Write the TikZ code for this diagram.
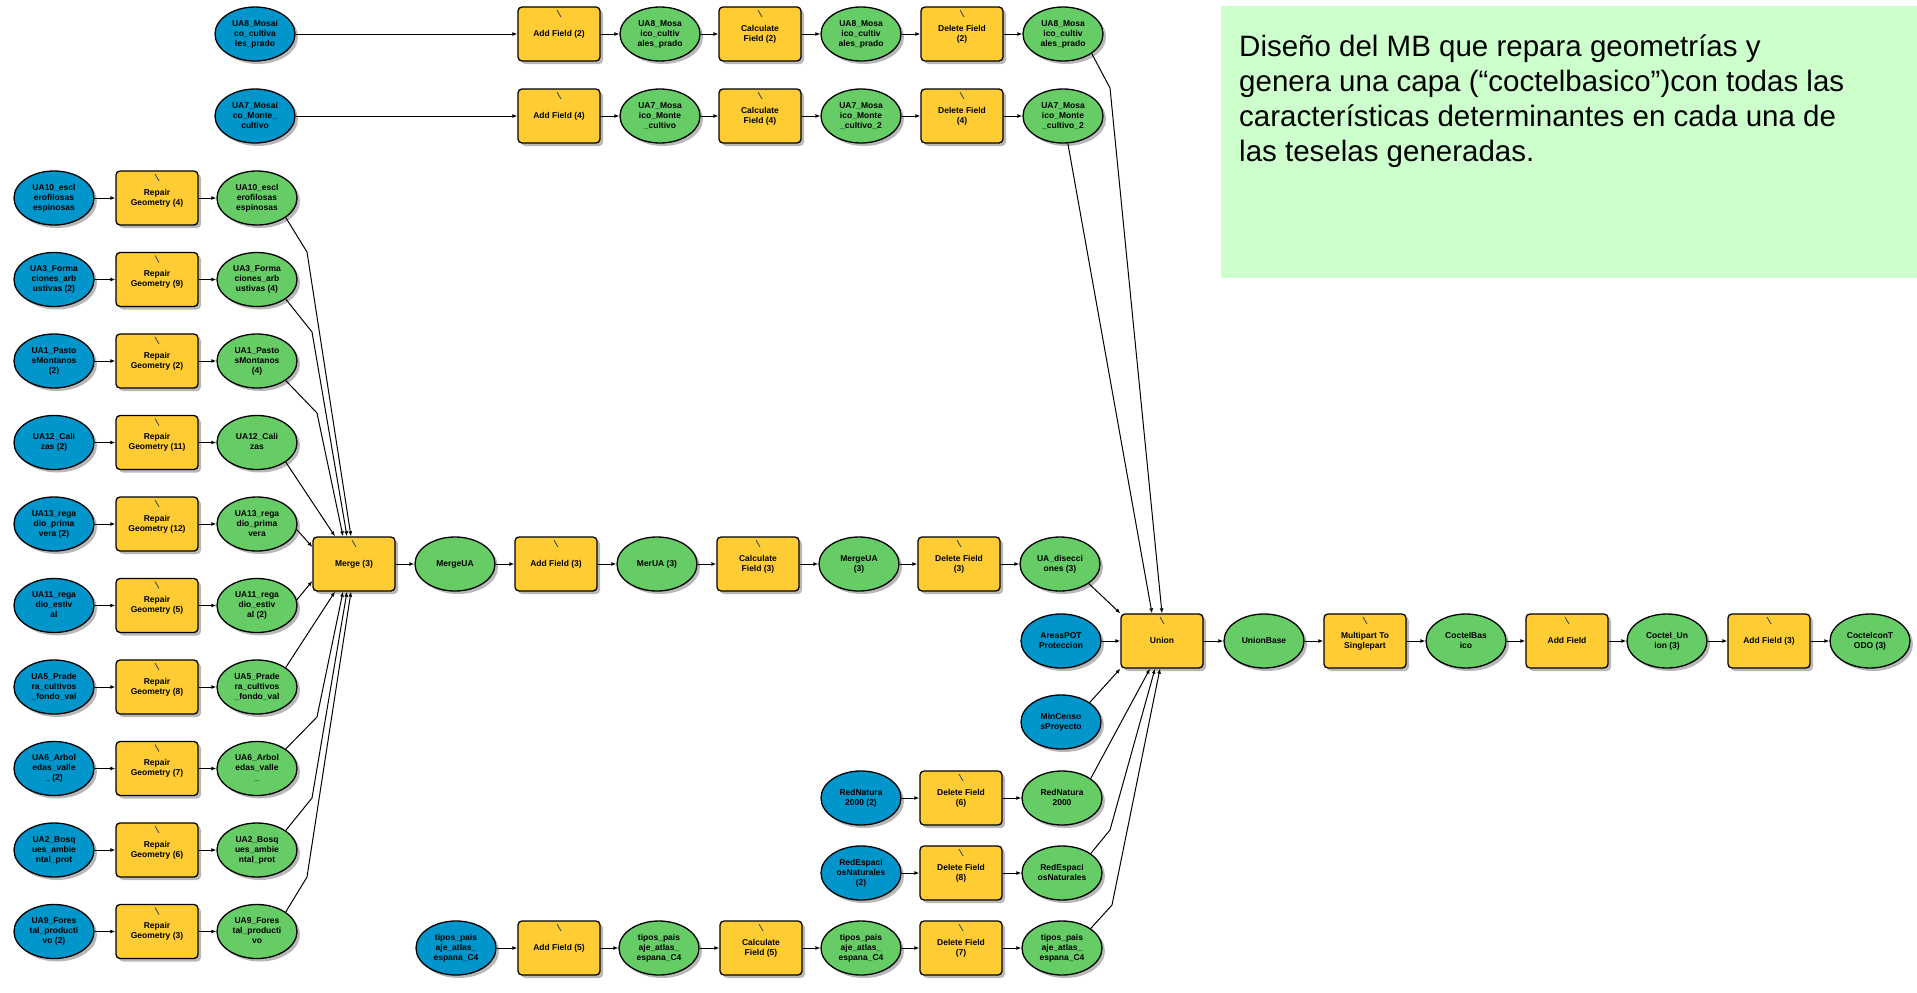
\documentclass[tikz,border=0pt]{standalone}
\usepackage{fontspec}
\setmainfont{Liberation Sans}
\usetikzlibrary{shapes.geometric,shadows,arrows.meta,calc}
\definecolor{inblue}{RGB}{0,150,204}
\definecolor{dgreen}{RGB}{102,204,102}
\definecolor{tyellow}{RGB}{255,204,51}
\definecolor{notegreen}{RGB}{204,255,204}
\newcommand\nlab[1]{\makebox[0pt]{\begin{tabular}{@{}c@{}}#1\end{tabular}}}
\begin{document}
\begin{tikzpicture}[x=1pt,y=-1pt,
  base/.style={draw=black, line width=1.3pt, inner sep=0pt,
    font=\fontsize{8.5}{10}\selectfont\bfseries,
    drop shadow={shadow xshift=3pt,shadow yshift=-3pt,fill=black!35,opacity=0.8}},
  indata/.style={base, ellipse, fill=inblue, minimum width=80pt, minimum height=54pt},
  outdata/.style={base, ellipse, fill=dgreen, minimum width=80pt, minimum height=54pt},
  tool/.style={base, rectangle, rounded corners=4pt, fill=tyellow,
    minimum width=82pt, minimum height=54pt,
    path picture={\draw[black!70, line width=0.9pt]
      ($(path picture bounding box.north)+(-2,3)$) -- ++(4,7);}},
  conn/.style={line width=1pt, -{Latex[length=5pt,width=4pt]}},
]
\useasboundingbox (0,0) rectangle (1917,993);

% note box
\node[fill=notegreen, minimum width=696pt, minimum height=272pt, anchor=north west, inner sep=0pt] (notebox) at (1221,6) {};
\node[anchor=north west, align=left, inner sep=0pt, font=\fontsize{29.5}{35}\selectfont] (notetext) at (1239,35)
 {Diseño del MB que repara geometrías y\\genera una capa (“coctelbasico”)con todas las\\características determinantes en cada una de\\las teselas generadas.};

% top row 1
\node[indata] (b8) at (255,34) {\nlab{UA8\_Mosai\\co\_cultiva\\les\_prado}};
\node[tool] (af2) at (559,34) {\nlab{Add Field (2)}};
\node[outdata] (g8a) at (660,34) {\nlab{UA8\_Mosa\\ico\_cultiv\\ales\_prado}};
\node[tool] (cf2) at (760,34) {\nlab{Calculate\\Field (2)}};
\node[outdata] (g8b) at (861,34) {\nlab{UA8\_Mosa\\ico\_cultiv\\ales\_prado}};
\node[tool] (df2) at (962,34) {\nlab{Delete Field\\(2)}};
\node[outdata] (g8c) at (1063,34) {\nlab{UA8\_Mosa\\ico\_cultiv\\ales\_prado}};
% top row 2
\node[indata] (b7) at (255,116) {\nlab{UA7\_Mosai\\co\_Monte\_\\cultivo}};
\node[tool] (af4) at (559,116) {\nlab{Add Field (4)}};
\node[outdata] (g7a) at (660,116) {\nlab{UA7\_Mosa\\ico\_Monte\\\_cultivo}};
\node[tool] (cf4) at (760,116) {\nlab{Calculate\\Field (4)}};
\node[outdata] (g7b) at (861,116) {\nlab{UA7\_Mosa\\ico\_Monte\\\_cultivo\_2}};
\node[tool] (df4) at (962,116) {\nlab{Delete Field\\(4)}};
\node[outdata] (g7c) at (1063,116) {\nlab{UA7\_Mosa\\ico\_Monte\\\_cultivo\_2}};

% left column
\node[indata] (l1) at (54,198) {\nlab{UA10\_escl\\erofilosas\\espinosas}};
\node[tool] (r1) at (157,198) {\nlab{Repair\\Geometry (4)}};
\node[outdata] (o1) at (257,198) {\nlab{UA10\_escl\\erofilosas\\espinosas}};
\node[indata] (l2) at (54,279.5) {\nlab{UA3\_Forma\\ciones\_arb\\ustivas (2)}};
\node[tool] (r2) at (157,279.5) {\nlab{Repair\\Geometry (9)}};
\node[outdata] (o2) at (257,279.5) {\nlab{UA3\_Forma\\ciones\_arb\\ustivas (4)}};
\node[indata] (l3) at (54,361) {\nlab{UA1\_Pasto\\sMontanos\\(2)}};
\node[tool] (r3) at (157,361) {\nlab{Repair\\Geometry (2)}};
\node[outdata] (o3) at (257,361) {\nlab{UA1\_Pasto\\sMontanos\\(4)}};
\node[indata] (l4) at (54,442.5) {\nlab{UA12\_Cali\\zas (2)}};
\node[tool] (r4) at (157,442.5) {\nlab{Repair\\Geometry (11)}};
\node[outdata] (o4) at (257,442.5) {\nlab{UA12\_Cali\\zas}};
\node[indata] (l5) at (54,524) {\nlab{UA13\_rega\\dio\_prima\\vera (2)}};
\node[tool] (r5) at (157,524) {\nlab{Repair\\Geometry (12)}};
\node[outdata] (o5) at (257,524) {\nlab{UA13\_rega\\dio\_prima\\vera}};
\node[indata] (l6) at (54,605.5) {\nlab{UA11\_rega\\dio\_estiv\\al}};
\node[tool] (r6) at (157,605.5) {\nlab{Repair\\Geometry (5)}};
\node[outdata] (o6) at (257,605.5) {\nlab{UA11\_rega\\dio\_estiv\\al (2)}};
\node[indata] (l7) at (54,687) {\nlab{UA5\_Prade\\ra\_cultivos\\\_fondo\_val}};
\node[tool] (r7) at (157,687) {\nlab{Repair\\Geometry (8)}};
\node[outdata] (o7) at (257,687) {\nlab{UA5\_Prade\\ra\_cultivos\\\_fondo\_val}};
\node[indata] (l8) at (54,768.5) {\nlab{UA6\_Arbol\\edas\_valle\\\_ (2)}};
\node[tool] (r8) at (157,768.5) {\nlab{Repair\\Geometry (7)}};
\node[outdata] (o8) at (257,768.5) {\nlab{UA6\_Arbol\\edas\_valle\\\_}};
\node[indata] (l9) at (54,850) {\nlab{UA2\_Bosq\\ues\_ambie\\ntal\_prot}};
\node[tool] (r9) at (157,850) {\nlab{Repair\\Geometry (6)}};
\node[outdata] (o9) at (257,850) {\nlab{UA2\_Bosq\\ues\_ambie\\ntal\_prot}};
\node[indata] (l10) at (54,931.5) {\nlab{UA9\_Fores\\tal\_producti\\vo (2)}};
\node[tool] (r10) at (157,931.5) {\nlab{Repair\\Geometry (3)}};
\node[outdata] (o10) at (257,931.5) {\nlab{UA9\_Fores\\tal\_producti\\vo}};

% middle row
\node[tool] (M) at (354,564) {\nlab{Merge (3)}};
\node[outdata] (mua) at (455,564) {\nlab{MergeUA}};
\node[tool] (af3) at (556,564) {\nlab{Add Field (3)}};
\node[outdata] (mer) at (657,564) {\nlab{MerUA (3)}};
\node[tool] (cf3) at (758,564) {\nlab{Calculate\\Field (3)}};
\node[outdata] (mua3) at (859,564) {\nlab{MergeUA\\(3)}};
\node[tool] (df3) at (959,564) {\nlab{Delete Field\\(3)}};
\node[outdata] (dis) at (1060,564) {\nlab{UA\_disecci\\ones (3)}};

% right row
\node[indata] (pot) at (1061,641) {\nlab{AreasPOT\\Proteccion}};
\node[tool] (U) at (1162,641) {\nlab{Union}};
\node[outdata] (ub) at (1264,641) {\nlab{UnionBase}};
\node[tool] (mp) at (1365,641) {\nlab{Multipart To\\Singlepart}};
\node[outdata] (cb) at (1466,641) {\nlab{CoctelBas\\ico}};
\node[tool] (afx) at (1567,641) {\nlab{Add Field}};
\node[outdata] (cu) at (1667,641) {\nlab{Coctel\_Un\\ion (3)}};
\node[tool] (afy) at (1769,641) {\nlab{Add Field (3)}};
\node[outdata] (ct) at (1870,641) {\nlab{CoctelconT\\ODO (3)}};
\node[indata] (mc) at (1061,722) {\nlab{MinCenso\\sProyecto}};

% lower right rows
\node[indata] (bn) at (861,798) {\nlab{RedNatura\\2000 (2)}};
\node[tool] (df6) at (961,798) {\nlab{Delete Field\\(6)}};
\node[outdata] (gn) at (1062,798) {\nlab{RedNatura\\2000}};
\node[indata] (be) at (861,873) {\nlab{RedEspaci\\osNaturales\\(2)}};
\node[tool] (df8) at (961,873) {\nlab{Delete Field\\(8)}};
\node[outdata] (ge) at (1062,873) {\nlab{RedEspaci\\osNaturales}};
\node[indata] (bt) at (456,948) {\nlab{tipos\_pais\\aje\_atlas\_\\espana\_C4}};
\node[tool] (af5) at (559,948) {\nlab{Add Field (5)}};
\node[outdata] (gt1) at (659,948) {\nlab{tipos\_pais\\aje\_atlas\_\\espana\_C4}};
\node[tool] (cf5) at (761,948) {\nlab{Calculate\\Field (5)}};
\node[outdata] (gt2) at (861,948) {\nlab{tipos\_pais\\aje\_atlas\_\\espana\_C4}};
\node[tool] (df7) at (961,948) {\nlab{Delete Field\\(7)}};
\node[outdata] (gt3) at (1062,948) {\nlab{tipos\_pais\\aje\_atlas\_\\espana\_C4}};

% connectors: top rows
\draw[conn] (b8) -- (af2);
\draw[conn] (af2) -- (g8a);
\draw[conn] (g8a) -- (cf2);
\draw[conn] (cf2) -- (g8b);
\draw[conn] (g8b) -- (df2);
\draw[conn] (df2) -- (g8c);
\draw[conn] (b7) -- (af4);
\draw[conn] (af4) -- (g7a);
\draw[conn] (g7a) -- (cf4);
\draw[conn] (cf4) -- (g7b);
\draw[conn] (g7b) -- (df4);
\draw[conn] (df4) -- (g7c);
\draw[conn] (g8c.south east) -- (1110,88) -- (U.north);
\draw[conn] (g7c.-80) -- ($(U.north)+(-10,0)$);

% left column
\foreach \i in {1,...,10}{
  \draw[conn] (l\i) -- (r\i);
  \draw[conn] (r\i) -- (o\i);
}
\draw[conn] (o1.south east) -- (307,252) -- ($(M.north)+(-3,0)$);
\draw[conn] (o2.south east) -- (312,332) -- ($(M.north)+(-7,0)$);
\draw[conn] (o3.south east) -- (317,413) -- ($(M.north)+(-11,0)$);
\draw[conn] (o4.south east) -- ($(M.north)+(-19,0)$);
\draw[conn] (o5.-8) -- ($(M.west)+(0,-17)$);
\draw[conn] (o6.8) -- ($(M.west)+(0,17)$);
\draw[conn] (o7.north east) -- ($(M.south)+(-19,0)$);
\draw[conn] (o8.north east) -- (317,717) -- ($(M.south)+(-11,0)$);
\draw[conn] (o9.north east) -- (312,798) -- ($(M.south)+(-7,0)$);
\draw[conn] (o10.north east) -- (307,877) -- ($(M.south)+(-3,0)$);

% middle row
\draw[conn] (M) -- (mua);
\draw[conn] (mua) -- (af3);
\draw[conn] (af3) -- (mer);
\draw[conn] (mer) -- (cf3);
\draw[conn] (cf3) -- (mua3);
\draw[conn] (mua3) -- (df3);
\draw[conn] (df3) -- (dis);
\draw[conn] (dis.south east) -- (U.north west);

% union inputs
\draw[conn] (pot) -- (U);
\draw[conn] (mc.north east) -- (U.south west);
\draw[conn] (bn) -- (df6);
\draw[conn] (df6) -- (gn);
\draw[conn] (be) -- (df8);
\draw[conn] (df8) -- (ge);
\draw[conn] (bt) -- (af5);
\draw[conn] (af5) -- (gt1);
\draw[conn] (gt1) -- (cf5);
\draw[conn] (cf5) -- (gt2);
\draw[conn] (gt2) -- (df7);
\draw[conn] (df7) -- (gt3);
\draw[conn] (gn.north east) -- ($(U.south)+(-12,0)$);
\draw[conn] (ge.north east) -- (1110,830) -- ($(U.south)+(-7,0)$);
\draw[conn] (gt3.north east) -- (1112,905) -- ($(U.south)+(-2,0)$);

% right row
\draw[conn] (U) -- (ub);
\draw[conn] (ub) -- (mp);
\draw[conn] (mp) -- (cb);
\draw[conn] (cb) -- (afx);
\draw[conn] (afx) -- (cu);
\draw[conn] (cu) -- (afy);
\draw[conn] (afy) -- (ct);
\end{tikzpicture}
\end{document}
